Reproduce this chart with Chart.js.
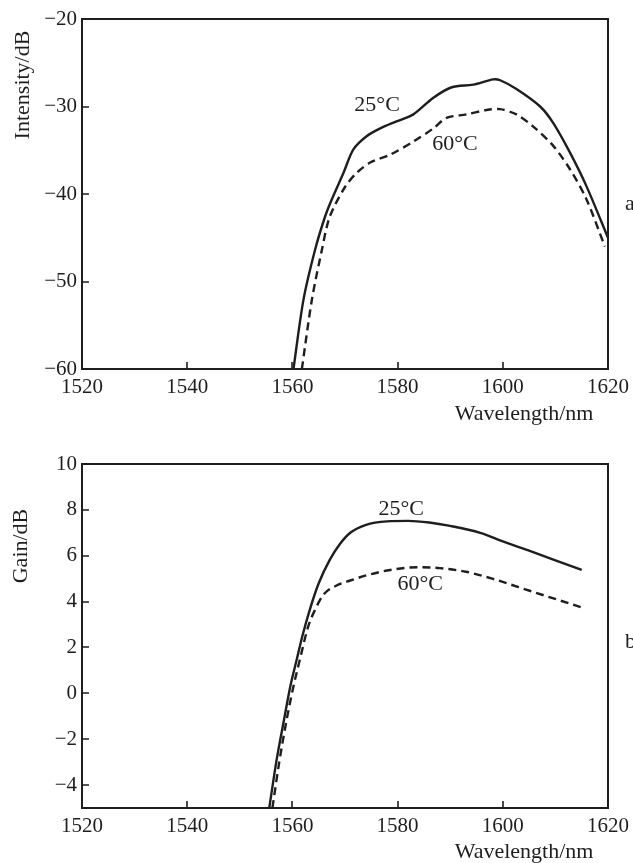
<!DOCTYPE html>
<html>
<head>
<meta charset="utf-8">
<script src="https://cdn.jsdelivr.net/npm/chart.js@4"></script>
<style>
  body { margin: 0; background: #fff; }
  .panel { position: absolute; left: 0; width: 633px; }
</style>
</head>
<body>
<div class="panel" style="top:0;height:430px"><canvas id="chartA"></canvas></div>
<div class="panel" style="top:430px;height:433px"><canvas id="chartB"></canvas></div>
<script>
const wavelengthTicks = [1520, 1540, 1560, 1580, 1600, 1620];
const intensityTicks = [-60, -50, -40, -30, -20];
const gainTicks = [-4, -2, 0, 2, 4, 6, 8, 10];

// a: output spectrum
const specWl25 = [1560.2, 1562.1, 1564.3, 1566.2, 1567.5, 1569.7, 1571.6, 1574.1, 1576.7, 1579.8, 1583.0, 1586.8, 1590.3, 1594.4, 1598.2, 1599.5, 1602.6, 1607.1, 1609.6, 1612.8, 1615.9, 1620];
const intensity25 = [-60, -52.1, -46.4, -42.6, -40.6, -37.6, -34.9, -33.4, -32.5, -31.7, -30.9, -29.0, -27.8, -27.5, -26.9, -27.0, -28.0, -30.0, -31.9, -35.3, -39.1, -45.0];
const specWl60 = [1561.8, 1563.7, 1565.6, 1567.1, 1570.0, 1572.2, 1574.8, 1578.6, 1583.0, 1586.8, 1589.3, 1593.1, 1596.9, 1599.5, 1602.6, 1605.8, 1609.6, 1612.8, 1615.9, 1619.4];
const intensity60 = [-60, -52.1, -46.4, -42.6, -39.2, -37.6, -36.4, -35.5, -34.0, -32.5, -31.3, -30.9, -30.4, -30.3, -30.9, -32.3, -34.5, -37.2, -40.6, -46.0];

// b: gain
const gainWl25 = [1555.6, 1557.0, 1558.4, 1559.6, 1560.8, 1561.9, 1563.3, 1565.0, 1567.1, 1569.0, 1571.0, 1574.0, 1578.0, 1582.0, 1586.0, 1590.0, 1595.7, 1600.0, 1605.0, 1610.0, 1615.0];
const gain25 = [-5, -2.9, -1.16, 0.3, 1.45, 2.5, 3.64, 4.8, 5.82, 6.5, 7.0, 7.35, 7.5, 7.52, 7.45, 7.3, 7.0, 6.63, 6.22, 5.8, 5.38];
const gainWl60 = [1556.2, 1557.5, 1558.9, 1560.2, 1561.4, 1563.0, 1564.3, 1565.9, 1568.4, 1571.0, 1574.2, 1578.6, 1584.0, 1588.0, 1593.0, 1598.0, 1603.0, 1608.0, 1614.8];
const gain60 = [-5, -3.0, -1.16, 0.3, 1.45, 2.91, 3.64, 4.3, 4.7, 4.92, 5.15, 5.38, 5.5, 5.46, 5.3, 5.0, 4.63, 4.26, 3.76];

const ink = '#1e1e1e';
const serif = '"Liberation Serif", "Times New Roman", serif';

const pts = (xs, ys) => xs.map((x, i) => ({ x: x, y: ys[i] }));
const fmt = v => String(v).replace('-', '\u2212');

// box, inward ticks and the text that sits on the plot
const framePlugin = {
  id: 'frame',
  afterDraw(chart, args, opts) {
    const { ctx, chartArea: a } = chart;
    const x = chart.scales.x, y = chart.scales.y;
    ctx.save();
    ctx.strokeStyle = ink;
    ctx.lineWidth = 2;
    ctx.strokeRect(a.left, a.top, a.right - a.left, a.bottom - a.top);

    ctx.lineWidth = 1.6;
    ctx.beginPath();
    x.ticks.forEach(t => {
      if (t.value <= x.min || t.value >= x.max) return;
      const px = Math.round(x.getPixelForValue(t.value));
      ctx.moveTo(px, a.bottom);
      ctx.lineTo(px, a.bottom - 7);
    });
    y.ticks.forEach(t => {
      if (t.value <= y.min || t.value >= y.max) return;
      const py = Math.round(y.getPixelForValue(t.value));
      ctx.moveTo(a.left, py);
      ctx.lineTo(a.left + 7, py);
    });
    ctx.stroke();

    ctx.fillStyle = ink;
    ctx.font = '22px ' + serif;
    ctx.textAlign = 'center';
    ctx.textBaseline = 'middle';
    opts.labels.forEach(l => {
      ctx.fillText(l.text, x.getPixelForValue(l.x), y.getPixelForValue(l.y));
    });

    ctx.textBaseline = 'alphabetic';
    ctx.fillText(opts.xTitle, opts.xTitleAt[0], opts.xTitleAt[1]);

    ctx.textAlign = 'left';
    ctx.textBaseline = 'middle';
    ctx.fillText(opts.tag, opts.tagAt[0], opts.tagAt[1]);

    ctx.translate(opts.yTitleAt[0], opts.yTitleAt[1]);
    ctx.rotate(-Math.PI / 2);
    ctx.textAlign = 'center';
    ctx.fillText(opts.yTitle, 0, 0);
    ctx.restore();
  }
};

function lineSet(data, dashed, smooth) {
  return {
    data: data,
    borderColor: ink,
    borderWidth: 2.4,
    borderDash: dashed ? [8, 5] : [],
    pointRadius: 0,
    fill: false,
    tension: smooth ? 0 : 0.3,
    cubicInterpolationMode: smooth ? 'monotone' : 'default'
  };
}

function buildChart(id, datasets, yMin, yMax, yTickList, padTop, xHeight, frame) {
  return new Chart(document.getElementById(id), {
    type: 'line',
    data: { datasets: datasets },
    plugins: [framePlugin],
    options: {
      responsive: true,
      maintainAspectRatio: false,
      animation: false,
      devicePixelRatio: 1,
      layout: { padding: { top: padTop, right: 25, bottom: 0, left: 0 } },
      plugins: { legend: { display: false }, tooltip: { enabled: false }, frame: frame },
      scales: {
        x: {
          type: 'linear', min: 1520, max: 1620,
          afterBuildTicks: s => { s.ticks = wavelengthTicks.map(v => ({ value: v })); },
          afterFit: s => { s.height = xHeight; s.paddingLeft = 0; s.paddingRight = 25; },
          grid: { display: false, drawTicks: false },
          border: { display: false },
          ticks: { color: ink, font: { family: serif, size: 21 }, padding: 6, maxRotation: 0, autoSkip: false, callback: v => fmt(v) }
        },
        y: {
          type: 'linear', min: yMin, max: yMax,
          afterBuildTicks: s => { s.ticks = yTickList.map(v => ({ value: v })); },
          afterFit: s => { s.width = 82; },
          grid: { display: false, drawTicks: false },
          border: { display: false },
          ticks: { color: ink, font: { family: serif, size: 21 }, padding: 5, autoSkip: false, callback: v => fmt(v) }
        }
      }
    }
  });
}

buildChart('chartA', [
  lineSet(pts(specWl25, intensity25), false, false),
  lineSet(pts(specWl60, intensity60), true, false)
], -60, -20, intensityTicks, 19, 61, {
  labels: [{ text: '25°C', x: 1576.1, y: -29.8 }, { text: '60°C', x: 1590.9, y: -34.3 }],
  xTitle: 'Wavelength/nm', xTitleAt: [524, 420],
  yTitle: 'Intensity/dB', yTitleAt: [23, 85],
  tag: 'a', tagAt: [625, 204]
});

buildChart('chartB', [
  lineSet(pts(gainWl25, gain25), false, true),
  lineSet(pts(gainWl60, gain60), true, true)
], -5, 10, gainTicks, 34, 55, {
  labels: [{ text: '25°C', x: 1580.7, y: 8.03 }, { text: '60°C', x: 1584.3, y: 4.75 }],
  xTitle: 'Wavelength/nm', xTitleAt: [524, 428],
  yTitle: 'Gain/dB', yTitleAt: [21, 116],
  tag: 'b', tagAt: [625, 212]
});
</script>
</body>
</html>
